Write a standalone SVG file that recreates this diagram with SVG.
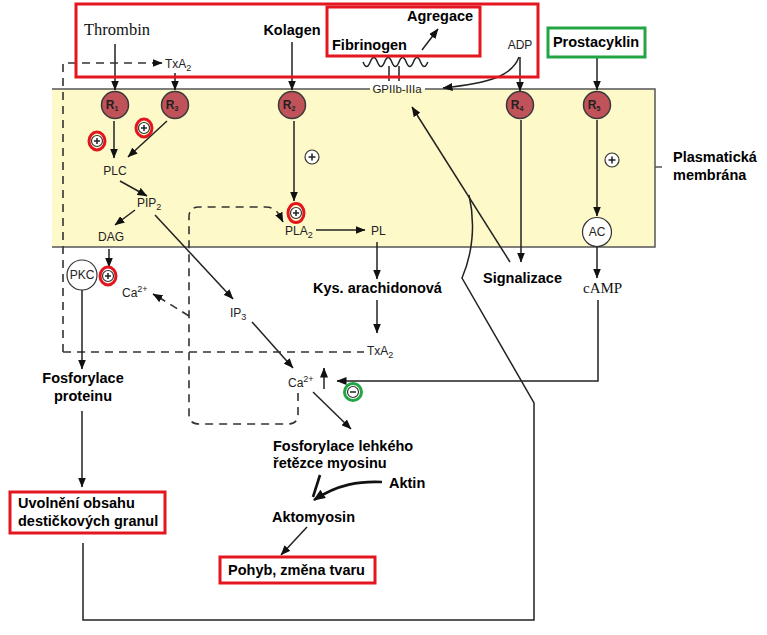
<svg xmlns="http://www.w3.org/2000/svg" width="767" height="635" viewBox="0 0 767 635">
<defs>
<marker id="ah" markerUnits="userSpaceOnUse" markerWidth="10" markerHeight="8" refX="9.5" refY="4" orient="auto"><path d="M0,0 L10,4 L0,8 z" fill="#111"/></marker>
<marker id="ahb" markerUnits="userSpaceOnUse" markerWidth="12" markerHeight="10" refX="11" refY="5" orient="auto"><path d="M0,0 L12,5 L0,10 z" fill="#111"/></marker>
</defs>
<style>
.ln{stroke:#222;stroke-width:1.5;fill:none}
.ar{stroke:#222;stroke-width:1.5;fill:none;marker-end:url(#ah)}
.da{stroke:#333;stroke-width:1.6;fill:none;stroke-dasharray:8 6}
.b{font-family:"Liberation Sans",Arial,sans-serif;font-weight:bold;font-size:14.5px;fill:#000}
.s{font-family:"Liberation Sans",Arial,sans-serif;font-size:12px;fill:#222}
.sub{font-size:9px}
.t{font-family:"Liberation Serif","Times New Roman",serif;font-size:16.5px;fill:#111}
.red{fill:none;stroke:#e3151f;stroke-width:3}
.grn{fill:none;stroke:#23a544;stroke-width:3}
.rc{fill:#c0525a;stroke:#3a3a3a;stroke-width:1.5}
.rt{font-family:"Liberation Sans",Arial,sans-serif;font-weight:bold;font-size:12px;fill:#222}
.pc{fill:#fff;stroke:#333;stroke-width:1.2}
.mem{stroke:#555;stroke-width:1.5;fill:none}
</style>
<rect width="767" height="635" fill="#fff"/>
<g id="membrane">
<rect x="52" y="89" width="603" height="158" fill="#fef9c9"/>
<path class="mem" d="M52,89 H370 M425,89 H655 V247 H52 M655,167 H662"/>
</g>
<g id="connectors">
<path class="ar" d="M115,44 V90"/>
<path class="da" d="M63,352 V63 H152"/>
<path class="ar" d="M152,63 H162"/>
<path class="ar" d="M175,73 V90"/>
<path class="ar" d="M292,42 V90"/>
<path class="ar" d="M597,57 V90"/>
<path class="ar" d="M422,50 L438,29"/>
<path class="ln" d="M363,58 q3.6,9 7.2,0 t7.2,0 t7.2,0 t7.2,0 t7.2,0 t7.2,0 t7.2,0 t7.2,0 t7.2,0" transform="translate(0,4)"/>
<path class="ln" d="M389,66 V81 M399,66 V81"/>
<path class="ar" d="M519,57 C512,76 490,83 443,88"/>
<path class="ar" d="M520,57 V91"/>
<path class="ar" d="M114,121 V158"/>
<path class="ar" d="M167,121 L128,157"/>
<path class="ar" d="M120,181 L147,196"/>
<path class="ar" d="M135,210 L115,225"/>
<path class="ar" d="M109,249 V267"/>
<path class="ar" d="M155,215 L233,299"/>
<path class="ar" d="M252,322 L293,368"/>
<path class="da" d="M298,393 V414 Q298,424 288,424 H199 Q189,424 189,414 V217 Q189,207 199,207 H266 Q275,207 280,216"/>
<path class="ar" d="M280,216 L283,222"/>
<path class="da" d="M189,316 L160,298"/>
<path class="ar" d="M160,298 L153,294"/>
<path class="ar" d="M324,389 V368"/>
<path class="ar" d="M598,300 V381 H337"/>
<path class="ar" d="M313,392 L351,429"/>
<path class="ar" d="M294,121 V201"/>
<path class="ar" d="M316,230 H365"/>
<path class="ar" d="M377,242 V279"/>
<path class="ar" d="M377,300 V333"/>
<path class="da" d="M63,352 H364"/>
<path class="ar" d="M521,120 V262"/>
<path class="ar" d="M510,262 L412,107"/>
<path class="ln" d="M83,543 V620 H534 V403 L462,278 C472,255 476,225 469,195"/>
<path class="ar" d="M597,120 V216"/>
<path class="ar" d="M597,247 V278"/>
<path class="ar" d="M82,290 V369"/>
<path class="ar" d="M82,411 V487"/>
<path d="M382,482 C360,481 338,484 314,500" stroke="#111" stroke-width="2.6" fill="none" marker-end="url(#ahb)"/>
<path d="M320,475 L313,497" stroke="#111" stroke-width="2.6" fill="none"/>
<path class="ar" d="M307,527 L281,555"/>
</g>
<g id="top-box"><rect class="red" x="76" y="4" width="462" height="73"/></g>
<g id="thrombin"><text class="t" x="117" y="35" text-anchor="middle">Thrombin</text></g>
<g id="kolagen"><text class="b" x="292" y="35" text-anchor="middle">Kolagen</text></g>
<g id="fibrinogen-box">
<rect class="red" x="327" y="7" width="153" height="49"/>
<text class="b" x="407" y="21">Agregace</text>
<text class="b" x="332" y="50">Fibrinogen</text>
</g>
<g id="adp"><text class="s" x="520" y="49" text-anchor="middle">ADP</text></g>
<g id="gp"><text class="s" x="397" y="93" text-anchor="middle" style="font-size:11.5px">GPIIb-IIIa</text></g>
<g id="txa2-top"><text class="s" x="165" y="68">TxA<tspan class="sub" dy="3">2</tspan></text></g>
<g id="prostacyklin">
<rect class="grn" x="548" y="28" width="97" height="29"/>
<text class="b" x="596" y="47" text-anchor="middle">Prostacyklin</text>
</g>
<g id="R1"><circle class="rc" cx="115" cy="105" r="13.5"/><text class="rt" x="112" y="109" text-anchor="middle">R<tspan class="sub" dy="2" style="font-size:7px">1</tspan></text></g>
<g id="R3"><circle class="rc" cx="175" cy="105" r="13.5"/><text class="rt" x="172" y="109" text-anchor="middle">R<tspan class="sub" dy="2" style="font-size:7px">3</tspan></text></g>
<g id="R2"><circle class="rc" cx="292" cy="105" r="13.5"/><text class="rt" x="289" y="109" text-anchor="middle">R<tspan class="sub" dy="2" style="font-size:7px">2</tspan></text></g>
<g id="R4"><circle class="rc" cx="520" cy="105" r="13.5"/><text class="rt" x="517" y="109" text-anchor="middle">R<tspan class="sub" dy="2" style="font-size:7px">4</tspan></text></g>
<g id="R5"><circle class="rc" cx="597" cy="105" r="13.5"/><text class="rt" x="594" y="109" text-anchor="middle">R<tspan class="sub" dy="2" style="font-size:7px">5</tspan></text></g>
<g id="plus1"><circle class="pc" cx="97" cy="141" r="5.5"/><path class="ln" d="M94,141 H100 M97,138 V144" stroke-width="1"/><ellipse class="red" cx="97" cy="141" rx="8" ry="9" stroke-width="2.5"/></g>
<g id="plus2"><circle class="pc" cx="144" cy="128" r="5.5"/><path class="ln" d="M141,128 H147 M144,125 V131" stroke-width="1"/><ellipse class="red" cx="144" cy="128" rx="8" ry="9" stroke-width="2.5"/></g>
<g id="plus3"><circle class="pc" cx="296" cy="213" r="5.5"/><path class="ln" d="M293,213 H299 M296,210 V216" stroke-width="1"/><ellipse class="red" cx="296" cy="213" rx="8" ry="9.5" stroke-width="2.5"/></g>
<g id="plus4"><circle class="pc" cx="108" cy="276" r="5.5"/><path class="ln" d="M105,276 H111 M108,273 V279" stroke-width="1"/><ellipse class="red" cx="108" cy="276" rx="8" ry="9" stroke-width="2.5"/></g>
<g id="plus5"><circle class="pc" cx="312" cy="157" r="7"/><path class="ln" d="M308.5,157 H315.5 M312,153.5 V160.5" stroke-width="1.2"/></g>
<g id="plus6"><circle class="pc" cx="612" cy="160" r="7"/><path class="ln" d="M608.5,160 H615.5 M612,156.5 V163.5" stroke-width="1.2"/></g>
<g id="minus"><circle class="pc" cx="353" cy="392" r="5.5"/><path class="ln" d="M350,392 H356" stroke-width="1.2"/><ellipse class="grn" cx="353" cy="392" rx="8.5" ry="8.5" stroke-width="2.5"/></g>
<g id="plc"><text class="s" x="115" y="175" text-anchor="middle">PLC</text></g>
<g id="pip2"><text class="s" x="137" y="207">PIP<tspan class="sub" dy="3">2</tspan></text></g>
<g id="dag"><text class="s" x="111" y="241" text-anchor="middle">DAG</text></g>
<g id="pkc"><circle class="pc" cx="82" cy="275" r="15"/><text class="s" x="82" y="279" text-anchor="middle">PKC</text></g>
<g id="ca-left"><text class="s" x="122" y="297">Ca<tspan class="sub" dy="-5">2+</tspan></text></g>
<g id="ip3"><text class="s" x="230" y="317">IP<tspan class="sub" dy="3">3</tspan></text></g>
<g id="ca-right"><text class="s" x="288" y="387">Ca<tspan class="sub" dy="-5">2+</tspan></text></g>
<g id="pla2"><text class="s" x="285" y="235">PLA<tspan class="sub" dy="3">2</tspan></text></g>
<g id="pl"><text class="s" x="371" y="235">PL</text></g>
<g id="kys"><text class="b" x="313" y="293">Kys. arachidonová</text></g>
<g id="txa2-low"><text class="s" x="367" y="355">TxA<tspan class="sub" dy="3">2</tspan></text></g>
<g id="signalizace"><text class="b" x="483" y="283">Signalizace</text></g>
<g id="ac"><circle class="pc" cx="597" cy="232" r="14.5"/><text class="s" x="597" y="236" text-anchor="middle">AC</text></g>
<g id="camp"><text class="t" x="583" y="293" style="font-size:15px">cAMP</text></g>
<g id="membrane-label"><text class="b" x="673" y="162">Plasmatická</text><text class="b" x="673" y="180">membrána</text></g>
<g id="fosf-prot"><text class="b" x="83" y="383" text-anchor="middle">Fosforylace</text><text class="b" x="83" y="401" text-anchor="middle">proteinu</text></g>
<g id="uvolneni"><rect class="red" x="10" y="492" width="155" height="41"/><text class="b" x="18" y="508">Uvolnění obsahu</text><text class="b" x="18" y="526">destičkových granul</text></g>
<g id="fosf-myo"><text class="b" x="273" y="451">Fosforylace lehkého</text><text class="b" x="273" y="468">řetězce myosinu</text></g>
<g id="aktin"><text class="b" x="389" y="488">Aktin</text></g>
<g id="aktomyosin"><text class="b" x="272" y="522">Aktomyosin</text></g>
<g id="pohyb"><rect class="red" x="220" y="557" width="155" height="26"/><text class="b" x="228" y="575">Pohyb, změna tvaru</text></g>
</svg>
